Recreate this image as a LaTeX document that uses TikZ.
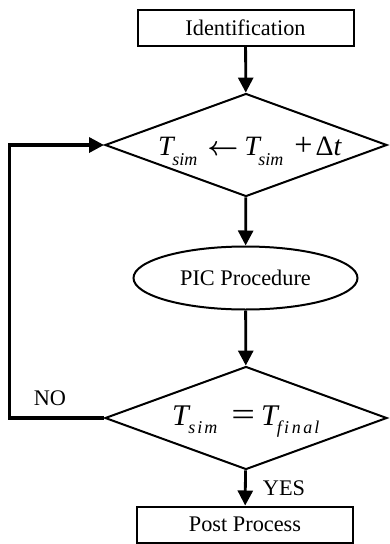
\documentclass[tikz,border=0pt]{standalone}
\usepackage{fontspec}
\setmainfont{Liberation Serif}
\usetikzlibrary{shapes.geometric,arrows.meta}
\newcommand{\bigT}[1]{{\fontsize{#1}{#1}\selectfont\itshape T}}
\newcommand{\subs}[2]{\raisebox{-#1}{\fontsize{18}{18}\selectfont\itshape #2}}
\begin{document}
\begin{tikzpicture}[x=1pt,y=-1pt,
  every node/.style={font=\fontsize{22.3}{24}\selectfont},
  box/.style={draw,line width=2pt,rectangle,minimum width=216pt,minimum height=36pt,inner sep=0pt},
  dia/.style={draw,line width=2pt,diamond,minimum width=282pt,minimum height=103pt,inner sep=0pt},
  ell/.style={draw,line width=2pt,ellipse,minimum width=224pt,minimum height=63pt,inner sep=0pt},
  eq/.style={anchor=base west,inner sep=0pt},
  arr/.style={line width=2.8pt,-{Triangle[length=15pt,width=15pt]}},
  loop/.style={line width=3.4pt,-{Triangle[length=15pt,width=15pt]}}]
\useasboundingbox (0,0) rectangle (389,544);
\node[box] (id) at (245.5,27.5) {Identification};
\node[dia] (d1) at (246,145) {};
\node[eq] (t1) at (158,155) {\bigT{28}\kern-1.5pt\subs{10pt}{sim}\kern10pt\scalebox{1.3}{\fontsize{20}{20}\selectfont\boldmath$\leftarrow$}\kern6pt\bigT{28}\kern-1.5pt\subs{10pt}{sim}\kern11pt\scalebox{1.15}{\fontsize{28}{28}\selectfont +}\kern3pt{\fontsize{28}{28}\selectfont Δ\itshape t}};
\node[ell] (pic) at (245.5,278) {PIC Procedure};
\node[dia] (d2) at (246,418) {};
\node[eq] (t2) at (172,425) {\bigT{30}\kern-0.5pt\subs{8pt}{s\kern2pt i\kern2pt m}\kern14pt\scalebox{1.4}[1.1]{\fontsize{30}{30}\selectfont =}\kern6pt\bigT{30}\kern-1pt\subs{8pt}{f\kern2.5pt i\kern2.5pt n\kern2.5pt a\kern2pt l}};
\node[box] (pp) at (245,524.5) {Post Process};
\coordinate (c1) at (9.5,418);
\coordinate (c2) at (9.5,145);
\draw[arr] (id) -- (d1);
\draw[arr] (d1) -- (pic);
\draw[arr] (pic) -- (d2);
\draw[arr] (d2) -- (pp);
\draw[loop] (d2.west) -- (c1) -- (c2) -- (d1.west);
\node (no) at (50,398) {NO};
\node (yes) at (284,488) {YES};
\end{tikzpicture}
\end{document}
